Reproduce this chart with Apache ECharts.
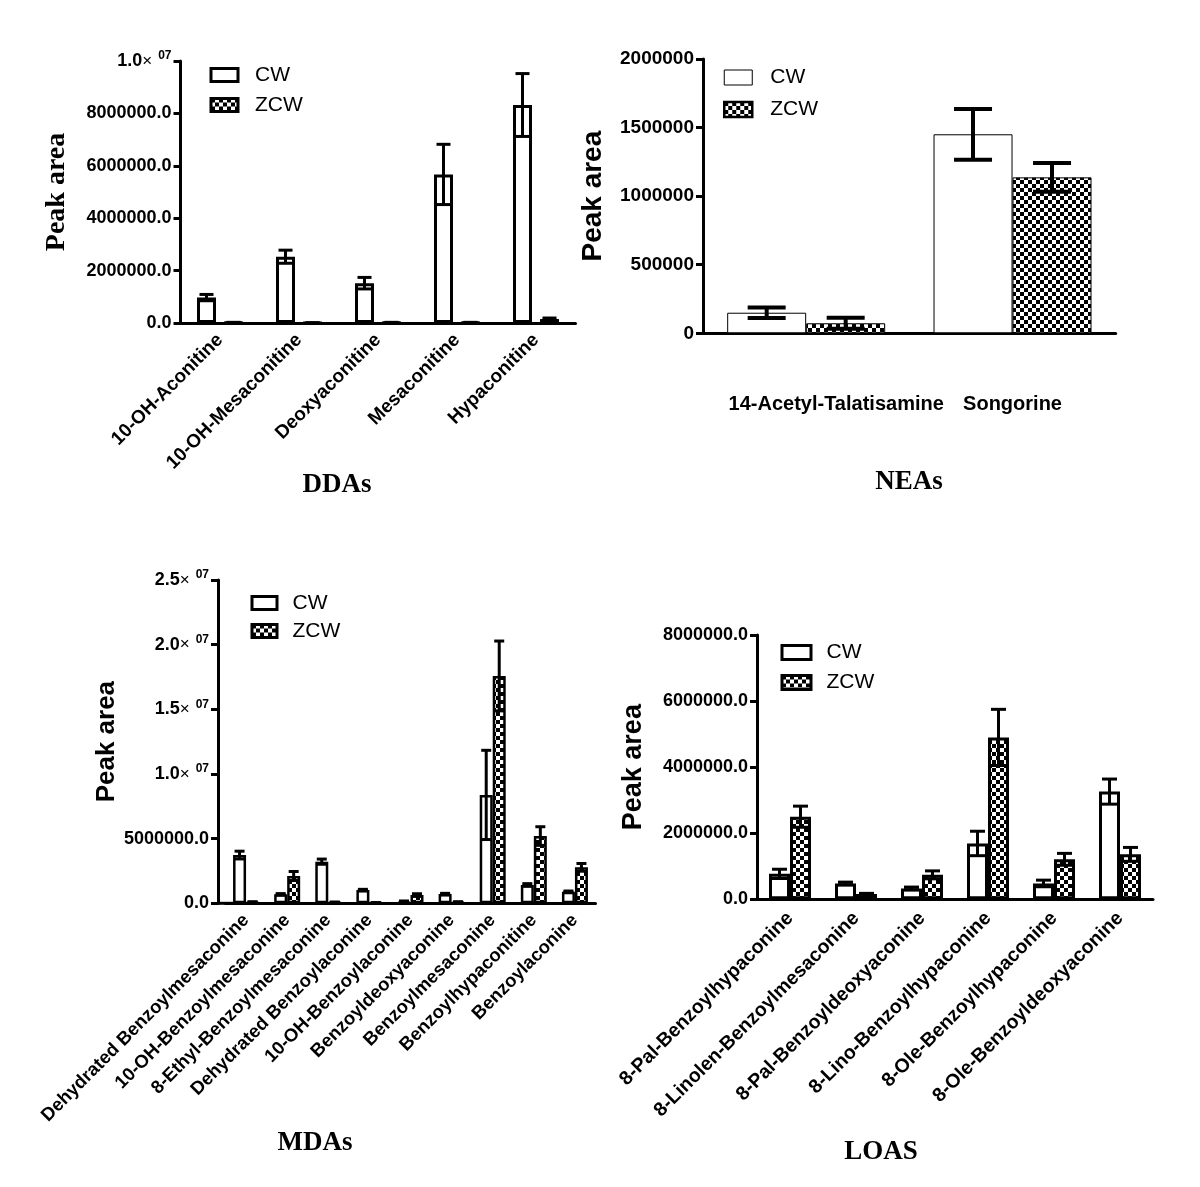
<!DOCTYPE html>
<html><head><meta charset="utf-8">
<script src="https://cdn.jsdelivr.net/npm/echarts@6/dist/echarts.min.js"></script>
<style>html,body{margin:0;padding:0;background:#fff}#c{width:1200px;height:1187px}</style>
</head><body><div id="c"></div><script>
// ---------------- DATA ----------------
const ddaCats = ['10-OH-Aconitine', '10-OH-Mesaconitine', 'Deoxyaconitine', 'Mesaconitine', 'Hypaconitine'];
const ddaCW = [970000, 2530000, 1520000, 5670000, 8320000];
const ddaCWErr = [120000, 250000, 220000, 1150000, 1200000];
const ddaZCW = [20000, 5000, 20000, 20000, 150000];
const ddaZCWErr = [5000, 2000, 5000, 5000, 40000];
const ddaTicks = ['0.0', '2000000.0', '4000000.0', '6000000.0', '8000000.0', '1.0×^07'];

const neaCats = ['14-Acetyl-Talatisamine', 'Songorine'];
const neaCW = [150000, 1451000];
const neaCWErr = [38000, 185000];
const neaZCW = [73000, 1137000];
const neaZCWErr = [40000, 105000];
const neaTicks = ['0', '500000', '1000000', '1500000', '2000000'];

const mdaCats = ['Dehydrated Benzoylmesaconine', '10-OH-Benzoylmesaconine', '8-Ethyl-Benzoylmesaconine',
  'Dehydrated Benzoylaconine', '10-OH-Benzoylaconine', 'Benzoyldeoxyaconine', 'Benzoylmesaconine',
  'Benzoylhypaconitine', 'Benzoylaconine'];
const mdaCW = [3730000, 700000, 3220000, 1030000, 150000, 720000, 8380000, 1420000, 900000];
const mdaCWErr = [300000, 50000, 200000, 50000, 30000, 50000, 3450000, 100000, 50000];
const mdaZCW = [100000, 2110000, 80000, 50000, 640000, 100000, 17580000, 5200000, 2780000];
const mdaZCWErr = [20000, 350000, 20000, 10000, 100000, 20000, 2700000, 720000, 300000];
const mdaTicks = ['0.0', '5000000.0', '1.0×^07', '1.5×^07', '2.0×^07', '2.5×^07'];

const loaCats = ['8-Pal-Benzoylhypaconine', '8-Linolen-Benzoylmesaconine', '8-Pal-Benzoyldeoxyaconine',
  '8-Lino-Benzoylhypaconine', '8-Ole-Benzoylhypaconine', '8-Ole-Benzoyldeoxyaconine'];
const loaCW = [770000, 480000, 330000, 1690000, 480000, 3260000];
const loaCWErr = [140000, 40000, 40000, 370000, 100000, 380000];
const loaZCW = [2500000, 160000, 740000, 4900000, 1210000, 1360000];
const loaZCWErr = [320000, 20000, 120000, 850000, 180000, 210000];
const loaTicks = ['0.0', '2000000.0', '4000000.0', '6000000.0', '8000000.0'];

const seriesNames = ['CW', 'ZCW'];
const panelTitles = ['DDAs', 'NEAs', 'MDAs', 'LOAS'];
const yName = 'Peak area';

// ---------------- STYLE ----------------
const SANS = '"Liberation Sans", Arial, Helvetica, sans-serif';
const SERIF = '"Liberation Serif", "Times New Roman", serif';

function checker() {
  const c = document.createElement('canvas');
  c.width = 8; c.height = 8;
  const g = c.getContext('2d');
  g.fillStyle = '#fff'; g.fillRect(0, 0, 8, 8);
  g.fillStyle = '#000'; g.fillRect(0, 0, 4, 4); g.fillRect(4, 4, 4, 4);
  return c;
}
const CHECK = { image: checker(), repeat: 'repeat' };

const panels = [
  { cats: ddaCats, cw: ddaCW, cwErr: ddaCWErr, zcw: ddaZCW, zcwErr: ddaZCWErr, ticks: ddaTicks,
    max: 1e7, interval: 2e6, grid: { left: 180.5, top: 61, width: 395, height: 262 },
    barWidth: 19, gapPx: 8, border: 3, errLW: 3, cap: 14, nameFont: SERIF, nameSize: 28, nameGap: 110,
    rotate: 45, xFont: 19, xMargin: 14, yFont: 18, yOffset: 0,
    legend: { left: 209.5, top: 64, w: 27, h: 13, gap: 8, pad: 12, cwBorder: 3, zBorder: 3 },
    title: { x: 337, y: 487 } },
  { cats: neaCats, cw: neaCW, cwErr: neaCWErr, zcw: neaZCW, zcwErr: neaZCWErr, ticks: neaTicks,
    max: 2e6, interval: 5e5, grid: { left: 703, top: 59, width: 412.7, height: 274.3 },
    barWidth: 79, gapPx: 0, border: 1, errLW: 4, cap: 38, nameFont: SANS, nameSize: 28, nameGap: 96,
    rotate: 0, xFont: 20, xMargin: 61, yFont: 19, yOffset: 0,
    legend: { left: 723, top: 66.5, w: 28, h: 15, gap: 10, pad: 13, cwBorder: 1, zBorder: 2.5 },
    title: { x: 909, y: 484 } },
  { cats: mdaCats, cw: mdaCW, cwErr: mdaCWErr, zcw: mdaZCW, zcwErr: mdaZCWErr, ticks: mdaTicks,
    max: 2.5e7, interval: 5e6, grid: { left: 225.5, top: 580, width: 370, height: 323.3 },
    barWidth: 13, gapPx: 0, border: 2.5, errLW: 3, cap: 10, nameFont: SANS, nameSize: 26, nameGap: 98,
    rotate: 45, xFont: 18.5, xMargin: 14, yFont: 18, yOffset: 7.5,
    legend: { left: 250.5, top: 592, w: 25, h: 13, gap: 6, pad: 10.5, cwBorder: 3, zBorder: 3 },
    title: { x: 315, y: 1145 } },
  { cats: loaCats, cw: loaCW, cwErr: loaCWErr, zcw: loaZCW, zcwErr: loaZCWErr, ticks: loaTicks,
    max: 8e6, interval: 2e6, grid: { left: 757, top: 635, width: 396, height: 264.3 },
    barWidth: 21, gapPx: 0, border: 3, errLW: 3, cap: 15, nameFont: SANS, nameSize: 27, nameGap: 110,
    rotate: 45, xFont: 19.5, xMargin: 16, yFont: 18, yOffset: 0,
    legend: { left: 780.5, top: 641.5, w: 29, h: 14, gap: 8, pad: 10.5, cwBorder: 3, zBorder: 3 },
    title: { x: 881, y: 1154 } }
];

function errRender(offset, cap, lw) {
  return function (params, api) {
    const x = api.value(0), v = api.value(1), e = api.value(2);
    const top = api.coord([x, v + e]);
    const bot = api.coord([x, v - e]);
    const cx = top[0] + offset;
    const style = { stroke: '#000', lineWidth: lw, fill: null };
    return { type: 'group', children: [
      { type: 'line', shape: { x1: cx, y1: top[1], x2: cx, y2: bot[1] }, style: style },
      { type: 'line', shape: { x1: cx - cap / 2, y1: top[1], x2: cx + cap / 2, y2: top[1] }, style: style },
      { type: 'line', shape: { x1: cx - cap / 2, y1: bot[1], x2: cx + cap / 2, y2: bot[1] }, style: style }
    ] };
  };
}

function yFormatter(ticks, interval) {
  return function (v) {
    const s = ticks[Math.round(v / interval)];
    if (s === undefined) return '';
    if (s.indexOf('×^') >= 0) {
      const parts = s.split('×^');
      return '{n|' + parts[0] + '}{x|×}{s|' + parts[1] + '}';
    }
    return '{n|' + s + '}';
  };
}

const grids = [], xAxes = [], yAxes = [], series = [], legends = [], titles = [];
panels.forEach(function (p, i) {
  grids.push(Object.assign({ containLabel: false }, p.grid));
  const xLabel = {
    interval: 0, rotate: p.rotate, margin: p.xMargin, color: '#000',
    fontFamily: SANS, fontWeight: 'bold', fontSize: p.xFont
  };
  if (i === 1) {
    xLabel.formatter = function (v, idx) { return idx === 0 ? '{a|' + v + '}' : '{b|' + v + '}'; };
    xLabel.rich = {
      a: { fontFamily: SANS, fontWeight: 'bold', fontSize: p.xFont, color: '#000', padding: [0, 0, 0, 60] },
      b: { fontFamily: SANS, fontWeight: 'bold', fontSize: p.xFont, color: '#000' }
    };
  }
  xAxes.push({
    type: 'category', gridIndex: i, data: p.cats, boundaryGap: true,
    axisLine: { lineStyle: { color: '#000', width: 3 },
      symbol: p.yOffset ? ['rect', 'none'] : ['none', 'none'],
      symbolSize: [3, p.yOffset * 2 + 1] },
    axisTick: { alignWithLabel: true, length: 9, lineStyle: { color: '#000', width: 3 } },
    axisLabel: xLabel, splitLine: { show: false }
  });
  yAxes.push({
    type: 'value', gridIndex: i, min: 0, max: p.max, interval: p.interval, offset: p.yOffset,
    name: yName, nameLocation: 'middle', nameGap: p.nameGap,
    nameTextStyle: { fontFamily: p.nameFont, fontWeight: 'bold', fontSize: p.nameSize, color: '#000' },
    axisLine: { show: true, lineStyle: { color: '#000', width: 3 } },
    axisTick: { show: true, length: 7, lineStyle: { color: '#000', width: 3 } },
    splitLine: { show: false },
    axisLabel: {
      margin: 9, color: '#000', formatter: yFormatter(p.ticks, p.interval),
      rich: {
        n: { fontFamily: SANS, fontWeight: 'bold', fontSize: p.yFont, color: '#000', lineHeight: 22 },
        x: { fontFamily: SANS, fontWeight: 'normal', fontSize: p.yFont - 1, color: '#000', lineHeight: 22 },
        s: { fontFamily: SANS, fontWeight: 'bold', fontSize: 12, color: '#000', lineHeight: 12,
             verticalAlign: 'top', padding: [0, 0, 0, 6] }
      }
    }
  });
  const barGap = (p.gapPx / p.barWidth * 100) + '%';
  series.push({
    name: seriesNames[0], type: 'bar', xAxisIndex: i, yAxisIndex: i, data: p.cw,
    barWidth: p.barWidth, barGap: barGap,
    itemStyle: { color: '#fff', borderColor: '#000', borderWidth: p.border },
    emphasis: { disabled: true }, z: 2
  });
  series.push({
    name: seriesNames[1], type: 'bar', xAxisIndex: i, yAxisIndex: i, data: p.zcw,
    barWidth: p.barWidth, barGap: barGap,
    itemStyle: { color: CHECK, borderColor: '#000', borderWidth: i === 1 ? 1 : p.border },
    emphasis: { disabled: true }, z: 2
  });
  const off = (p.barWidth + p.gapPx) / 2;
  series.push({
    type: 'custom', xAxisIndex: i, yAxisIndex: i, z: 4,
    data: p.cats.map(function (c, k) { return [k, p.cw[k], p.cwErr[k]]; }),
    encode: { x: 0, y: 1 }, renderItem: errRender(-off, p.cap, p.errLW), silent: true
  });
  series.push({
    type: 'custom', xAxisIndex: i, yAxisIndex: i, z: 4,
    data: p.cats.map(function (c, k) { return [k, p.zcw[k], p.zcwErr[k]]; }),
    encode: { x: 0, y: 1 }, renderItem: errRender(off, p.cap, p.errLW), silent: true
  });
  const L = p.legend;
  legends.push({
    orient: 'vertical', left: L.left, top: L.top, padding: 0, itemGap: L.gap,
    itemWidth: L.w, itemHeight: L.h, icon: 'rect', selectedMode: false,
    textStyle: { fontFamily: SANS, fontSize: 21, color: '#000', lineHeight: 22, padding: [0, 0, 0, L.pad] },
    data: [
      { name: seriesNames[0], itemStyle: { color: '#fff', borderColor: '#000', borderWidth: L.cwBorder } },
      { name: seriesNames[1], itemStyle: { color: CHECK, borderColor: '#000', borderWidth: L.zBorder } }
    ]
  });
  titles.push({
    text: panelTitles[i], left: p.title.x, top: p.title.y - 15, textAlign: 'center', padding: 0,
    textStyle: { fontFamily: SERIF, fontWeight: 'bold', fontSize: 27, color: '#000' }
  });
});

const chart = echarts.init(document.getElementById('c'), null, { renderer: 'canvas' });
chart.setOption({
  backgroundColor: '#fff', animation: false,
  title: titles, legend: legends, grid: grids, xAxis: xAxes, yAxis: yAxes, series: series
});
</script></body></html>
